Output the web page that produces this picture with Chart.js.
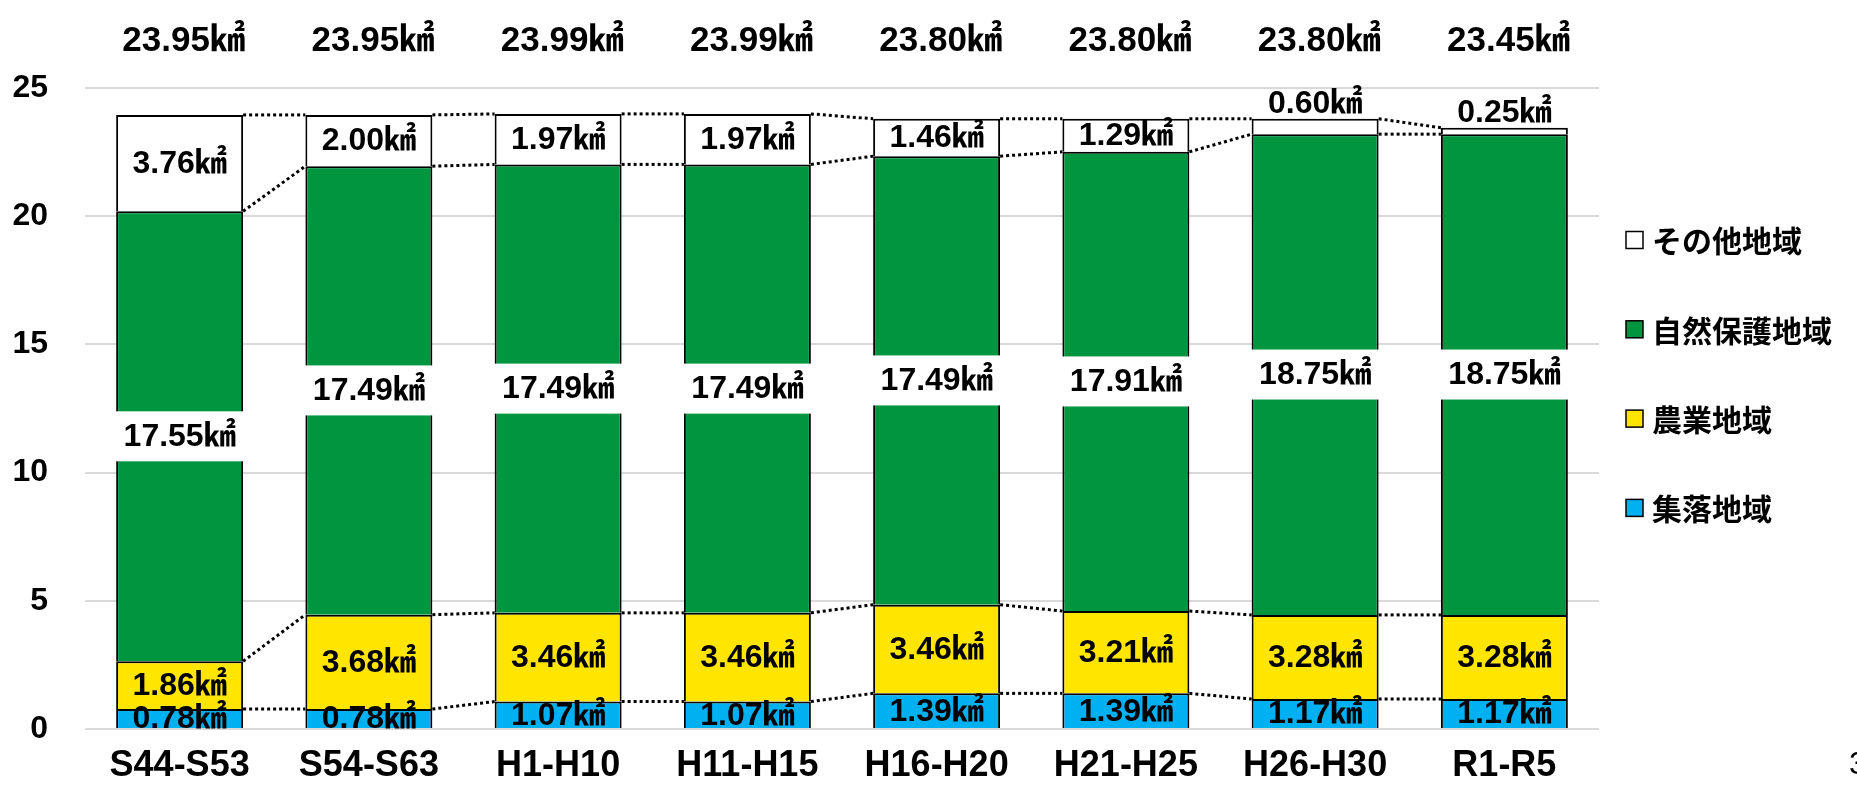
<!DOCTYPE html>
<html>
<head>
<meta charset="utf-8">
<script src="https://cdn.jsdelivr.net/npm/chart.js@4.4.0/dist/chart.umd.min.js"></script>
<style>
  html, body { margin: 0; padding: 0; background: #fff; }
  #wrap { width: 1857px; height: 787px; }
</style>
</head>
<body>
<div id="wrap"><canvas id="areaChart" width="1857" height="787"></canvas></div>
<script>
// periods
const categories = ['S44-S53', 'S54-S63', 'H1-H10', 'H11-H15', 'H16-H20', 'H21-H25', 'H26-H30', 'R1-R5'];

// area by zone (km2), bottom to top of each stack
const settlement = [0.78, 0.78, 1.07, 1.07, 1.39, 1.39, 1.17, 1.17];      // 集落地域
const farmland   = [1.86, 3.68, 3.46, 3.46, 3.46, 3.21, 3.28, 3.28];      // 農業地域
const nature     = [17.55, 17.49, 17.49, 17.49, 17.49, 17.91, 18.75, 18.75]; // 自然保護地域
const other      = [3.76, 2.00, 1.97, 1.97, 1.46, 1.29, 0.60, 0.25];      // その他地域

// totals printed above the bars
const totals = [23.95, 23.95, 23.99, 23.99, 23.80, 23.80, 23.80, 23.45];

const yMin = 0, yMax = 25, yStep = 5;

const FONT = '"Liberation Sans", Arial, "Noto Sans CJK JP", sans-serif';
const JP_FONT = '"Noto Sans CJK JP", "Liberation Sans", sans-serif';

function km(v) { return v.toFixed(2) + '㎢'; }

const areaLabels = {
  id: 'areaLabels',
  afterDatasetsDraw(chart) {
    const ctx = chart.ctx;
    const metas = chart.data.datasets.map((d, i) => chart.getDatasetMeta(i));
    const last = metas.length - 1;
    ctx.save();

    // dotted lines linking the stack boundaries
    ctx.strokeStyle = '#000';
    ctx.lineWidth = 3;
    ctx.setLineDash([3, 3]);
    metas.forEach(meta => {
      for (let i = 0; i < meta.data.length - 1; i++) {
        const a = meta.data[i], b = meta.data[i + 1];
        ctx.beginPath();
        ctx.moveTo(a.x + a.width / 2, a.y);
        ctx.lineTo(b.x - b.width / 2, b.y);
        ctx.stroke();
      }
    });
    ctx.setLineDash([]);

    // value labels
    ctx.textAlign = 'center';
    ctx.fillStyle = '#000';
    ctx.font = 'bold 32px ' + FONT;
    chart.data.datasets.forEach((ds, di) => {
      metas[di].data.forEach((el, i) => {
        const v = ds.data[i];
        const h = el.base - el.y;
        const mid = (el.y + el.base) / 2;
        if (ds.boxedLabel) {
          ctx.fillStyle = '#fff';
          ctx.fillRect(el.x - el.width / 2 - 1, mid - 25, el.width + 2, 50);
          ctx.fillStyle = '#000';
        }
        if (di === last && h < 26) {
          // thin top segment: label sits on the bar
          ctx.textBaseline = 'alphabetic';
          ctx.fillText(km(v), el.x, el.y - 6);
        } else {
          ctx.textBaseline = 'middle';
          ctx.fillText(km(v), el.x, mid + 1);
        }
      });
    });

    // totals on top
    ctx.font = 'bold 35px ' + FONT;
    ctx.textBaseline = 'middle';
    metas[last].data.forEach((el, i) => {
      ctx.fillText(km(totals[i]), el.x + 4, 41);
    });
    ctx.restore();
  },
  afterDraw(chart) {
    // legend, top entry = top of stack
    const ctx = chart.ctx;
    const ds = chart.data.datasets.slice().reverse();
    ctx.save();
    ctx.font = 'bold 30px ' + JP_FONT;
    ctx.textBaseline = 'middle';
    ctx.textAlign = 'left';
    ds.forEach((d, i) => {
      const cy = 240 + i * 89.3;
      ctx.fillStyle = d.backgroundColor;
      ctx.fillRect(1626, cy - 8.5, 17, 17);
      ctx.strokeStyle = '#000';
      ctx.lineWidth = 1.5;
      ctx.strokeRect(1626, cy - 8.5, 17, 17);
      ctx.fillStyle = '#000';
      ctx.fillText(d.label, 1652, cy + 1);
    });
    // page number at the edge
    ctx.font = '32px ' + FONT;
    ctx.fillText('3', 1849, 765);
    ctx.restore();
  }
};

new Chart(document.getElementById('areaChart'), {
  type: 'bar',
  data: {
    labels: categories,
    datasets: [
      { label: '集落地域', data: settlement, backgroundColor: '#00B0F0' },
      { label: '農業地域', data: farmland, backgroundColor: '#FFE500' },
      { label: '自然保護地域', data: nature, backgroundColor: '#00963F', boxedLabel: true },
      { label: 'その他地域', data: other, backgroundColor: '#FFFFFF' }
    ].map(d => Object.assign(d, {
      borderColor: '#000',
      borderWidth: 2,
      barPercentage: 0.671,
      categoryPercentage: 1
    }))
  },
  options: {
    responsive: false,
    animation: false,
    layout: { padding: { top: 88, right: 258, left: 0, bottom: 0 } },
    plugins: {
      legend: { display: false },
      tooltip: { enabled: false }
    },
    scales: {
      x: {
        stacked: true,
        grid: { display: false },
        border: { display: false },
        ticks: {
          color: '#000',
          font: { family: FONT, size: 36, weight: 'bold' },
          padding: 7,
          autoSkip: false,
          maxRotation: 0
        },
        afterFit(s) { s.height = 58; }
      },
      y: {
        stacked: true,
        min: yMin,
        max: yMax,
        ticks: {
          stepSize: yStep,
          color: '#000',
          font: { family: FONT, size: 32, weight: 'bold' },
          padding: 37
        },
        grid: { color: '#d9d9d9', lineWidth: 2, drawTicks: false },
        border: { display: false },
        afterFit(s) { s.width = 85; }
      }
    }
  },
  plugins: [areaLabels]
});
</script>
</body>
</html>
